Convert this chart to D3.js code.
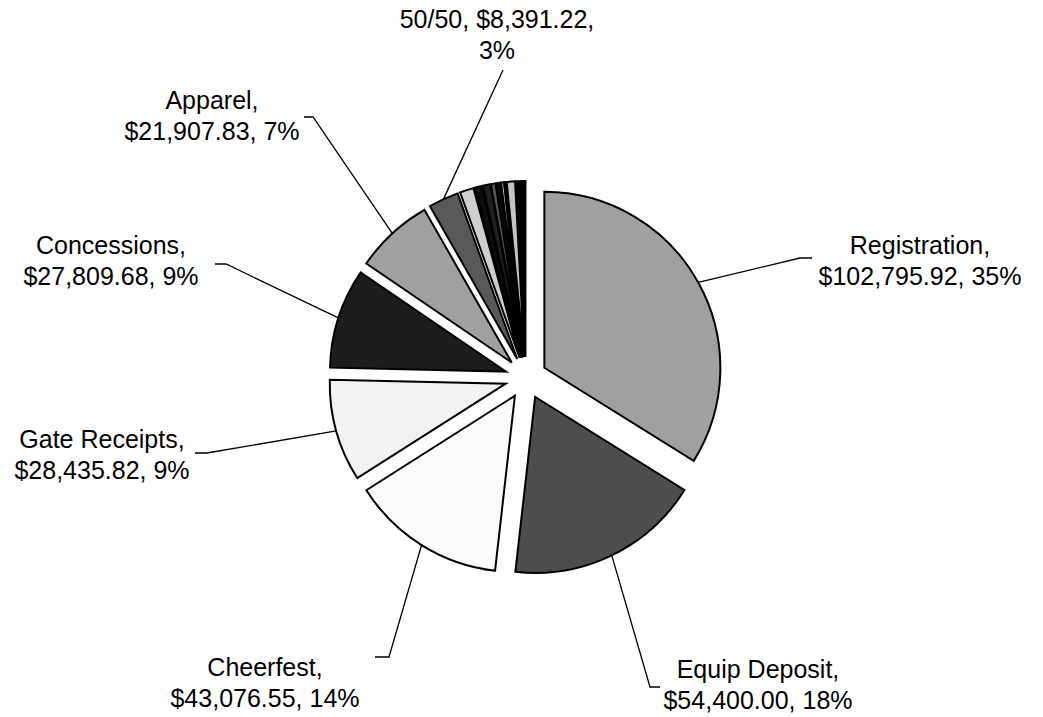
<!DOCTYPE html>
<html>
<head>
  <meta charset="UTF-8" />
  <script src="https://d3js.org/d3.v7.min.js"></script>
  <style>
    body { margin: 0; background: #fff; }
    text { font-family: "Liberation Sans", Arial, sans-serif; font-size: 25px; fill: #000; }
  </style>
</head>
<body>
  <script>
    // categories, in drawing order (clockwise from 12 o'clock)
    var categories = ["Registration", "Equip Deposit", "Cheerfest", "Gate Receipts", "Concessions", "Apparel", "50/50",
      "Other 1", "Other 2", "Other 3", "Other 4", "Other 5", "Other 6", "Other 7", "Other 8", "Other 9"];
    var values = [102795.92, 54400.00, 43076.55, 28435.82, 27809.68, 21907.83, 8391.22,
      3850, 2050, 2050, 1285, 1285, 770, 515, 2310, 2570];
    // percent labels as printed on the chart
    var pctLabels = ["35%", "18%", "14%", "9%", "9%", "7%", "3%"];
    var fills = ["#a0a0a0", "#4d4d4d", "#fbfbfb", "#f2f2f2", "#1c1c1c", "#a0a0a0", "#595959",
      "#cfcfcf", "#0d0d0d", "#1f1f1f", "#595959", "#0a0a0a", "#f5f5f5", "#111111", "#c4c4c4", "#000000"];

    // label layout: text centre, first baseline, leader stub (null = straight line)
    var labelLayout = [
      { x: 920, y: 254, stub: [[812, 258], [800, 258]] },
      { x: 758, y: 678, stub: [[660, 687], [650, 687]] },
      { x: 265, y: 676, stub: [[375, 657], [389, 657]] },
      { x: 102, y: 448, stub: [[195, 453], [207, 453]] },
      { x: 111, y: 254, stub: [[215, 264], [226, 264]] },
      { x: 212, y: 109, stub: [[304, 117], [313, 117]] },
      { x: 497, y: 28, stub: [[503, 70]] }
    ];

    var width = 1043, height = 717;
    var cx = 526, cy = 378, radius = 176, explode = 21, lineH = 31;

    var svg = d3.select("body").append("svg")
      .attr("width", width)
      .attr("height", height);

    var pie = d3.pie().sort(null).value(function (d) { return d; });
    var arcs = pie(values);
    var arc = d3.arc().innerRadius(0).outerRadius(radius);
    var fmt = d3.format("$,.2f");

    function offset(d, r) {
      var a = (d.startAngle + d.endAngle) / 2;
      return [Math.sin(a) * r, -Math.cos(a) * r];
    }

    var g = svg.append("g").attr("transform", "translate(" + cx + "," + cy + ")");

    g.selectAll("path.slice")
      .data(arcs)
      .enter().append("path")
      .attr("class", "slice")
      .attr("d", arc)
      .attr("transform", function (d) {
        var o = offset(d, explode);
        return "translate(" + o[0] + "," + o[1] + ")";
      })
      .style("fill", function (d, i) { return fills[i]; })
      .style("stroke", "#000")
      .style("stroke-width", 2)
      .style("stroke-linejoin", "miter");

    // leader lines
    var line = d3.line();
    labelLayout.forEach(function (l, i) {
      var o = offset(arcs[i], radius + explode);
      var pts = l.stub.concat([[cx + o[0], cy + o[1]]]);
      svg.append("path")
        .attr("d", line(pts))
        .style("fill", "none")
        .style("stroke", "#000")
        .style("stroke-width", 1.3);
    });

    // labels
    labelLayout.forEach(function (l, i) {
      var lines;
      if (categories[i] === "50/50") {
        lines = [categories[i] + ", " + fmt(values[i]) + ",", pctLabels[i]];
      } else {
        lines = [categories[i] + ",", fmt(values[i]) + ", " + pctLabels[i]];
      }
      var t = svg.append("text").attr("text-anchor", "middle");
      lines.forEach(function (s, k) {
        t.append("tspan").attr("x", l.x).attr("y", l.y + k * lineH).text(s);
      });
    });
  </script>
</body>
</html>
